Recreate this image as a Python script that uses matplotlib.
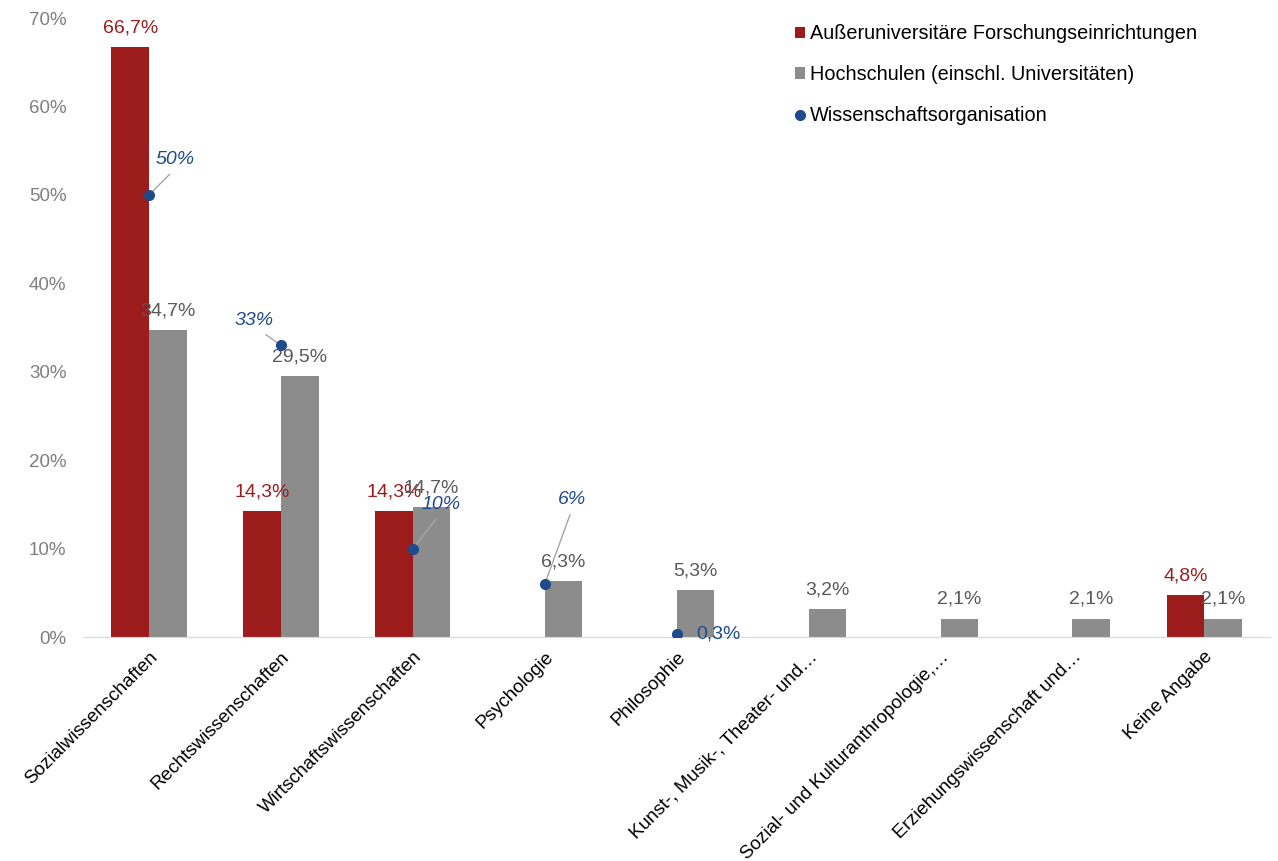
import matplotlib.pyplot as plt
import numpy as np
from matplotlib.transforms import ScaledTranslation

plt.rcParams['font.family'] = ['Liberation Sans', 'DejaVu Sans']

# Anteile in Prozent je Fachgebiet
categories = ['Sozialwissenschaften', 'Rechtswissenschaften', 'Wirtschaftswissenschaften',
              'Psychologie', 'Philosophie', 'Kunst-, Musik-, Theater- und…',
              'Sozial- und Kulturanthropologie,…', 'Erziehungswissenschaft und…', 'Keine Angabe']
ausseruni = [66.7, 14.3, 14.3, None, None, None, None, None, 4.8]
hochschulen = [34.7, 29.5, 14.7, 6.3, 5.3, 3.2, 2.1, 2.1, 2.1]
# Wissenschaftsorganisation: nur einzelne Punkte
wiss_idx = [0, 1, 2, 3, 4]
wiss_vals = [50, 33, 10, 6, 0.3]
wiss_labels = ['50%', '33%', '10%', '6%', '0,3%']

red = '#9c1c1c'
grey = '#8c8c8c'
blue = '#1f4a8c'

fig = plt.figure(figsize=(12.78, 8.61), dpi=100)
ax = fig.add_axes([0.065, 0.26, 0.929, 0.719])

x = np.arange(len(categories))
w = 0.285

red_vals = [v if v is not None else 0 for v in ausseruni]
b1 = ax.bar(x - w / 2, red_vals, w, color=red, label='Außeruniversitäre Forschungseinrichtungen')
b2 = ax.bar(x + w / 2, hochschulen, w, color=grey, label='Hochschulen (einschl. Universitäten)')
pts, = ax.plot(x[wiss_idx], wiss_vals, 'o', color=blue, ms=7, ls='none',
               label='Wissenschaftsorganisation', zorder=5)

fmt = lambda v: f'{v:.1f}%'.replace('.', ',')
for i, v in enumerate(ausseruni):
    if v is not None:
        ax.text(x[i] - w / 2, v + 1.2, fmt(v), color=red, fontsize=14, ha='center', va='bottom')
for i, v in enumerate(hochschulen):
    ax.text(x[i] + w / 2, v + 1.2, fmt(v), color='#595959', fontsize=14, ha='center', va='bottom')

# Beschriftungen der Punkte mit Führungslinien
offsets = [(0.2, 3.0), (-0.2, 1.8), (0.21, 4.0), (0.21, 8.6), (None, None)]
for k, (i, v, lab) in enumerate(zip(wiss_idx, wiss_vals, wiss_labels)):
    dx, dy = offsets[k]
    if dx is None:
        ax.text(x[i] + 0.32, v, lab, color=blue, fontsize=14, ha='center', va='center')
        continue
    ax.annotate(lab, xy=(x[i], v), xytext=(x[i] + dx, v + dy), color=blue, fontsize=14,
                style='italic', ha='center', va='bottom',
                arrowprops=dict(arrowstyle='-', color='#a6a6a6', lw=1, shrinkA=3, shrinkB=0,
                                relpos=(0.5, 0.0) if dx > 0 else (0.6, 0.0)))

ax.set_xlim(-0.5, len(categories) - 0.5)
ax.set_ylim(0, 70)
ax.set_yticks(np.arange(0, 71, 10))
ax.set_yticklabels([f'{t}%' for t in range(0, 71, 10)], color='#7f7f7f', fontsize=13.5)
ax.set_xticks(x)
ax.set_xticklabels(categories, rotation=45, ha='right', rotation_mode='anchor', fontsize=13.6)
for lbl in ax.get_xticklabels():
    lbl.set_transform(lbl.get_transform() + ScaledTranslation(0.04, 0.0, fig.dpi_scale_trans))
ax.tick_params(axis='y', length=0, pad=12)
ax.tick_params(axis='x', length=0, pad=8)
for s in ['top', 'right', 'left']:
    ax.spines[s].set_visible(False)
ax.spines['bottom'].set_color('#d9d9d9')

ax.legend(handles=[b1, b2, pts], loc='upper left', bbox_to_anchor=(0.6, 0.99), frameon=False,
          fontsize=14.3, labelspacing=1.1, handlelength=0.5, handleheight=0.5, handletextpad=0.25,
          borderpad=0, borderaxespad=0, markerscale=1.0)

fig.savefig('out.png', dpi=100)
